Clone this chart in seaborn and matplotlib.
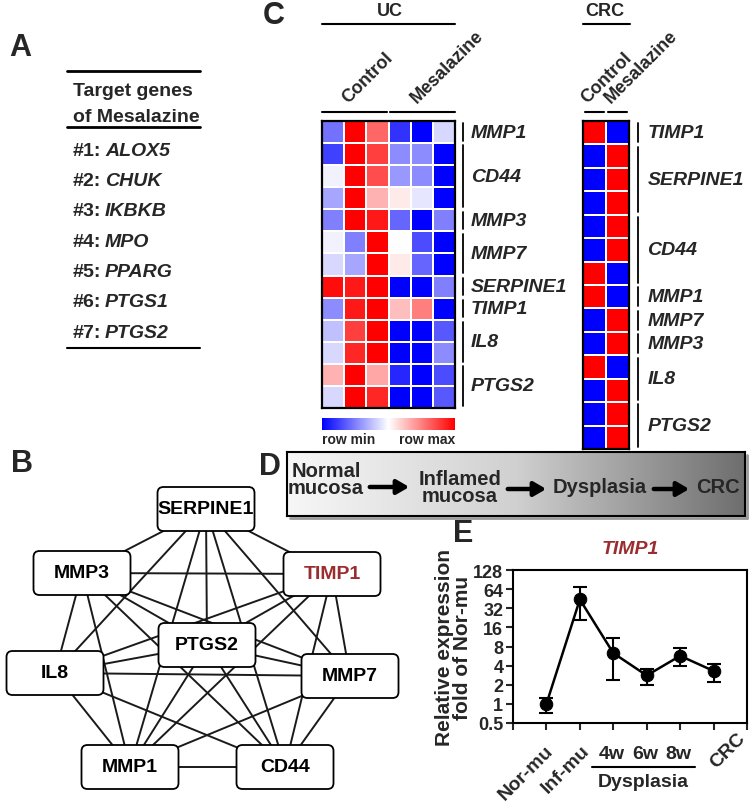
import numpy as np
import pandas as pd
import matplotlib
matplotlib.use('Agg')
import matplotlib.pyplot as plt
import seaborn as sns
from matplotlib.colors import LinearSegmentedColormap
from matplotlib.patches import FancyBboxPatch
from matplotlib.transforms import blended_transform_factory

sns.set_theme(style='white')
plt.rcParams['font.family'] = ['Liberation Sans', 'DejaVu Sans']

W, H = 752, 803

# ---- data ----
target_genes = ['ALOX5', 'CHUK', 'IKBKB', 'MPO', 'PPARG', 'PTGS1', 'PTGS2']

uc_cols = ['C1', 'C2', 'C3', 'M1', 'M2', 'M3']
uc_groups = [('MMP1', 1), ('CD44', 3), ('MMP3', 1), ('MMP7', 2),
             ('SERPINE1', 1), ('TIMP1', 1), ('IL8', 2), ('PTGS2', 2)]
uc_values = [
    [-0.55, 1.00, 0.60, -0.80, -1.00, -0.15],
    [-0.75, 1.00, 0.75, -0.45, -0.45, -1.00],
    [-0.05, 1.00, 0.70, -0.40, -0.45, -1.00],
    [-0.35, 1.00, 0.30, 0.08, -0.10, -1.00],
    [-0.50, 1.00, 0.90, -0.60, -1.00, -0.50],
    [-0.05, -0.50, 1.00, 0.00, -0.70, -1.00],
    [-0.15, -0.35, 1.00, 0.08, -0.60, -1.00],
    [0.95, 0.90, 1.00, -1.00, -1.00, -0.50],
    [-0.45, 0.90, 1.00, 0.25, 0.50, -1.00],
    [-0.25, 0.75, 1.00, -1.00, -1.00, -0.65],
    [-0.15, 0.85, 1.00, -1.00, -1.00, -0.45],
    [0.30, 1.00, 0.35, -0.85, -1.00, -0.70],
    [-0.15, 1.00, 0.85, -1.00, -1.00, -0.65],
]

crc_cols = ['Control', 'Mesalazine']
crc_groups = [('TIMP1', 1), ('SERPINE1', 3), ('CD44', 3), ('MMP1', 1),
              ('MMP7', 1), ('MMP3', 1), ('IL8', 2), ('PTGS2', 2)]
crc_values = [
    [1, -1], [-1, 1], [-1, 1], [-1, 1], [-1, 1], [-1, 1], [1, -1],
    [1, -1], [-1, 1], [-1, 1], [1, -1], [-1, 1], [-1, 1], [-1, 1],
]

net_nodes = ['SERPINE1', 'MMP3', 'TIMP1', 'PTGS2', 'IL8', 'MMP7', 'MMP1', 'CD44']
net_edges = [
    ('SERPINE1', 'MMP3'), ('SERPINE1', 'TIMP1'), ('SERPINE1', 'PTGS2'),
    ('SERPINE1', 'IL8'), ('SERPINE1', 'MMP7'), ('SERPINE1', 'MMP1'),
    ('SERPINE1', 'CD44'), ('MMP3', 'TIMP1'), ('MMP3', 'PTGS2'),
    ('MMP3', 'IL8'), ('MMP3', 'MMP7'), ('MMP3', 'MMP1'), ('MMP3', 'CD44'),
    ('TIMP1', 'PTGS2'), ('TIMP1', 'IL8'), ('TIMP1', 'MMP7'),
    ('TIMP1', 'MMP1'), ('TIMP1', 'CD44'), ('PTGS2', 'IL8'),
    ('PTGS2', 'MMP7'), ('PTGS2', 'MMP1'), ('PTGS2', 'CD44'),
    ('IL8', 'MMP7'), ('IL8', 'MMP1'), ('IL8', 'CD44'),
    ('MMP7', 'MMP1'), ('MMP7', 'CD44'), ('MMP1', 'CD44'),
]

stages = ['Nor-mu', 'Inf-mu', '4w', '6w', '8w', 'CRC']
timp1_mean = [1.0, 44.0, 6.3, 2.8, 5.7, 3.3]
timp1_low = [0.72, 20.7, 2.4, 2.0, 4.0, 2.25]
timp1_high = [1.22, 69.0, 10.7, 3.5, 7.5, 4.2]

progression = ['Normal\nmucosa', 'Inflamed\nmucosa', 'Dysplasia', 'CRC']

# ---- layout helpers ----
def px_rect(x0, y0, x1, y1):
    return [x0 / W, 1 - y1 / H, (x1 - x0) / W, (y1 - y0) / H]

fig = plt.figure(figsize=(W / 100, H / 100), dpi=100)
dark_red = '#9b2d30'
cmap = LinearSegmentedColormap.from_list('rowscale', ['#0000ff', '#ffffff', '#ff0000'])

# ---- C: heatmaps ----
uc_df = pd.DataFrame(uc_values, columns=uc_cols)
crc_df = pd.DataFrame(crc_values, columns=crc_cols)

ax_uc = fig.add_axes(px_rect(322, 122, 455, 409))
ax_cb = fig.add_axes(px_rect(322, 419, 455, 431))
sns.heatmap(uc_df, ax=ax_uc, cmap=cmap, vmin=-1, vmax=1, linewidths=1.2,
            linecolor='white', cbar_ax=ax_cb, cbar_kws={'orientation': 'horizontal'},
            xticklabels=False, yticklabels=False)
cbar = ax_uc.collections[0].colorbar
cbar.set_ticks([])
cbar.outline.set_visible(False)

ax_crc = fig.add_axes(px_rect(583, 122, 629, 450))
sns.heatmap(crc_df, ax=ax_crc, cmap=cmap, vmin=-1, vmax=1, linewidths=1.2,
            linecolor='white', cbar=False, xticklabels=False, yticklabels=False)

def group_labels(ax, groups, bar_x, text_x):
    tr = blended_transform_factory(ax.transAxes, ax.transData)
    start = 0
    for name, n in groups:
        ax.plot([bar_x, bar_x], [start + 0.1, start + n - 0.1], transform=tr,
                color='black', lw=1.3, clip_on=False)
        ax.text(text_x, start + n / 2, name, transform=tr, ha='left', va='center',
                fontsize=14, fontweight='bold', fontstyle='italic', clip_on=False)
        start += n

for ax in (ax_uc, ax_crc):
    for sp in ax.spines.values():
        sp.set_visible(True)
        sp.set_color('black')
        sp.set_linewidth(1.6)
    ax.set_xlabel('')
    ax.set_ylabel('')

nrow_uc = sum(n for _, n in uc_groups)
nrow_crc = sum(n for _, n in crc_groups)
group_labels(ax_uc, uc_groups, 1.06, 1.12)
group_labels(ax_crc, crc_groups, 1.20, 1.40)
ax_uc.set_ylim(nrow_uc, 0)
ax_crc.set_ylim(nrow_crc, 0)

# ---- E: line plot ----
ax_e = fig.add_axes(px_rect(513, 571, 747, 724))
xpos = np.arange(1, len(stages) + 1)
mean = np.array(timp1_mean)
yerr = [mean - np.array(timp1_low), np.array(timp1_high) - mean]
sns.lineplot(x=xpos, y=mean, ax=ax_e, color='black', marker='o', markersize=9,
             lw=1.8, markeredgecolor='black')
ax_e.errorbar(xpos, mean, yerr=yerr, fmt='none', ecolor='black', capsize=5,
              elinewidth=1.5, capthick=1.5)
ax_e.set_yscale('log', base=2)
ax_e.set_ylim(0.5, 128)
yt = [0.5, 1, 2, 4, 8, 16, 32, 64, 128]
ax_e.set_yticks(yt)
ax_e.set_yticklabels(['0.5', '1', '2', '4', '8', '16', '32', '64', '128'],
                     fontsize=13, fontweight='bold')
ax_e.yaxis.set_minor_locator(matplotlib.ticker.NullLocator())
ax_e.set_xlim(0, 7)
ax_e.set_xticks(range(8))
ax_e.set_xticklabels([])
ax_e.tick_params(direction='out', length=5, width=1.5, bottom=True, left=True, pad=2)
for sp in ax_e.spines.values():
    sp.set_visible(True)
    sp.set_color('black')
    sp.set_linewidth(1.5)
ax_e.set_title('TIMP1', fontsize=14, fontweight='bold', fontstyle='italic',
               color=dark_red, pad=12)
ax_e.set_ylabel('Relative expression\nfold of Nor-mu', fontsize=15, fontweight='bold',
                linespacing=0.95, labelpad=1)

xt = ax_e.get_xaxis_transform()
ax_e.text(0.95, -0.12, stages[0], transform=xt, rotation=45, rotation_mode='anchor',
          ha='right', va='top', fontsize=14, fontweight='bold')
ax_e.text(2.03, -0.12, stages[1], transform=xt, rotation=45, rotation_mode='anchor',
          ha='right', va='top', fontsize=14, fontweight='bold')
for i in (2, 3, 4):
    ax_e.text(xpos[i] - 0.05, -0.2, stages[i], transform=xt, ha='center',
              va='center', fontsize=14, fontweight='bold')
ax_e.plot([2.36, 5.44], [-0.288, -0.288], transform=xt, color='black', lw=1.5,
          clip_on=False)
ax_e.text(3.9, -0.38, 'Dysplasia', transform=xt, ha='center', va='center',
          fontsize=14, fontweight='bold')
ax_e.text(6.68, -0.04, stages[5], transform=xt, rotation=45, rotation_mode='anchor',
          ha='right', va='top', fontsize=14, fontweight='bold')

# ---- D: progression box ----
ax_d = fig.add_axes(px_rect(287, 453, 745, 517))
grad = np.linspace(0, 1, 256).reshape(1, -1)
gray_cmap = LinearSegmentedColormap.from_list('g', ['#f7f7f7', '#d0d0d0', '#6e6e6e'])
ax_d.imshow(grad, cmap=gray_cmap, aspect='auto', extent=[0, 1, 0, 1])
ax_d.set_xticks([])
ax_d.set_yticks([])
for sp in ax_d.spines.values():
    sp.set_visible(True)
    sp.set_color('black')
    sp.set_linewidth(1.5)

# ---- overlay in pixel coordinates ----
ov = fig.add_axes([0, 0, 1, 1])
ov.set_xlim(0, W)
ov.set_ylim(H, 0)
ov.axis('off')
ov.patch.set_alpha(0)

# panel letters
for letter, (lx, ly) in zip('ABCDE', [(20, 48), (22, 464), (274, 16), (270, 467), (463, 534)]):
    ov.text(lx, ly, letter, fontsize=22, fontweight='bold', ha='center', va='center')

# A: table
ov.plot([67, 200], [72, 72], color='black', lw=2)
ov.plot([67, 200], [128, 128], color='black', lw=2)
ov.plot([67, 200], [349, 349], color='black', lw=1.5)
ov.text(73, 92, 'Target genes', fontsize=14, fontweight='bold', va='center')
ov.text(73, 117, 'of Mesalazine', fontsize=14, fontweight='bold', va='center')
for i, g in enumerate(target_genes):
    yy = 151 + i * 30.4
    ov.text(73, yy, f'#{i + 1}:', fontsize=14, fontweight='bold', va='center')
    ov.text(105, yy, g, fontsize=14, fontweight='bold', fontstyle='italic', va='center')

# C: column headers
ov.text(390, 12, 'UC', fontsize=13, fontweight='bold', ha='center', va='center')
ov.plot([322, 455], [25, 25], color='black', lw=1.5)
ov.text(605, 12, 'CRC', fontsize=13, fontweight='bold', ha='center', va='center')
ov.plot([583, 630], [25, 25], color='black', lw=1.5)
for (x0, x1) in [(322, 387), (390, 455), (585, 604), (608, 627)]:
    ov.plot([x0, x1], [113, 113], color='black', lw=1.5)
for tx, lab in [(351, 'Control'), (420, 'Mesalazine'), (590, 'Control'), (614, 'Mesalazine')]:
    ov.text(tx, 107, lab, rotation=45, rotation_mode='anchor', ha='left',
            va='bottom', fontsize=13, fontweight='bold')
ov.text(322, 440, 'row min', fontsize=10, fontweight='bold', ha='left', va='center')
ov.text(455, 440, 'row max', fontsize=10, fontweight='bold', ha='right', va='center')

# B: network
node_pos = dict(zip(net_nodes, [(206, 510), (82, 574), (332, 575), (207, 646),
                                (55, 674), (350, 677), (130, 768), (285, 768)]))
for a, b in net_edges:
    (xa, ya), (xb, yb) = node_pos[a], node_pos[b]
    ov.plot([xa, xb], [ya, yb], color='#1a1a1a', lw=1.4, zorder=1)
bw, bh = 97, 44
for name in net_nodes:
    cx, cy = node_pos[name]
    ov.add_patch(FancyBboxPatch((cx - bw / 2, cy - bh / 2), bw, bh,
                                boxstyle='round,pad=0,rounding_size=6',
                                fc='white', ec='black', lw=1.3, zorder=2))
    ov.text(cx, cy, name, fontsize=14, fontweight='bold', ha='center', va='center',
            color=dark_red if name == 'TIMP1' else 'black', zorder=3)

# D: texts and arrows
ov.plot([747, 747], [456, 519], color='#9a9a9a', lw=2)
ov.plot([290, 747], [519, 519], color='#9a9a9a', lw=2)
d_pos = [(326, 480), (460, 488), (600, 488), (718, 488)]
for (tx, ty), lab in zip(d_pos, progression):
    ov.text(tx, ty, lab, fontsize=14.5, fontweight='bold', ha='center', va='center',
            linespacing=0.9)
for x0, x1, yy in [(367, 412, 488), (505, 549, 490), (651, 692, 490)]:
    ov.annotate('', xy=(x1, yy), xytext=(x0, yy),
                arrowprops=dict(arrowstyle='-|>,head_length=0.6,head_width=0.35',
                                lw=3.2, color='black'))

fig.savefig('out.png', dpi=100)
